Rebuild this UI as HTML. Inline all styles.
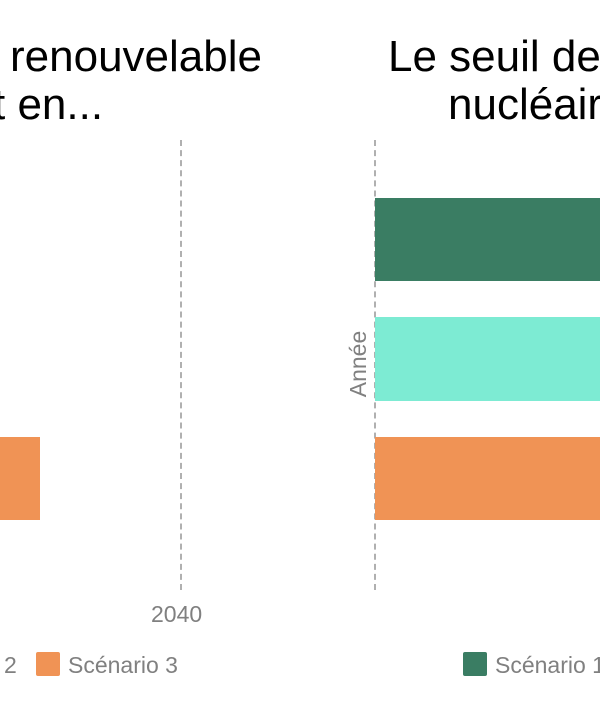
<!DOCTYPE html>
<html><head><meta charset="utf-8"><style>
body{margin:0;width:600px;height:712px;background:#fff;overflow:hidden;position:relative;font-family:"Liberation Sans",sans-serif}
.t{position:absolute;font-size:44px;color:#000;white-space:nowrap;line-height:46px}
.g{position:absolute;color:#808080;font-size:23px;white-space:nowrap;line-height:26px}
.d{position:absolute;top:140px;height:450px;border-left:2px dashed #b0b0b0;width:0}
.b{position:absolute}
</style></head><body>
<div class="t" style="left:10px;top:34px">renouvelable</div>
<div class="t" style="left:-7px;top:82px">t en...</div>
<div class="t" style="left:388px;top:34px">Le seuil de</div>
<div class="t" style="left:448px;top:82px">nucléair</div>
<div class="d" style="left:180px"></div>
<div class="d" style="left:374px"></div>
<div class="b" style="left:0;top:437px;width:40px;height:83px;background:#f09355"></div>
<div class="b" style="left:375px;top:198px;width:225px;height:83px;background:#3a7d63"></div>
<div class="b" style="left:375px;top:317px;width:225px;height:84px;background:#7debd3"></div>
<div class="b" style="left:375px;top:437px;width:225px;height:83px;background:#f09355"></div>
<div class="g" style="left:151px;top:601px">2040</div>
<div class="g" style="left:318px;top:351px;transform:rotate(-90deg);transform-origin:center;width:80px;text-align:center">Année</div>
<div class="g" style="left:4px;top:652px">2</div>
<div class="b" style="left:36px;top:652px;width:24px;height:24px;background:#f09355;border-radius:2px"></div>
<div class="g" style="left:68px;top:652px">Scénario 3</div>
<div class="b" style="left:463px;top:652px;width:24px;height:24px;background:#3a7d63;border-radius:2px"></div>
<div class="g" style="left:495px;top:652px">Scénario 1</div>
</body></html>
